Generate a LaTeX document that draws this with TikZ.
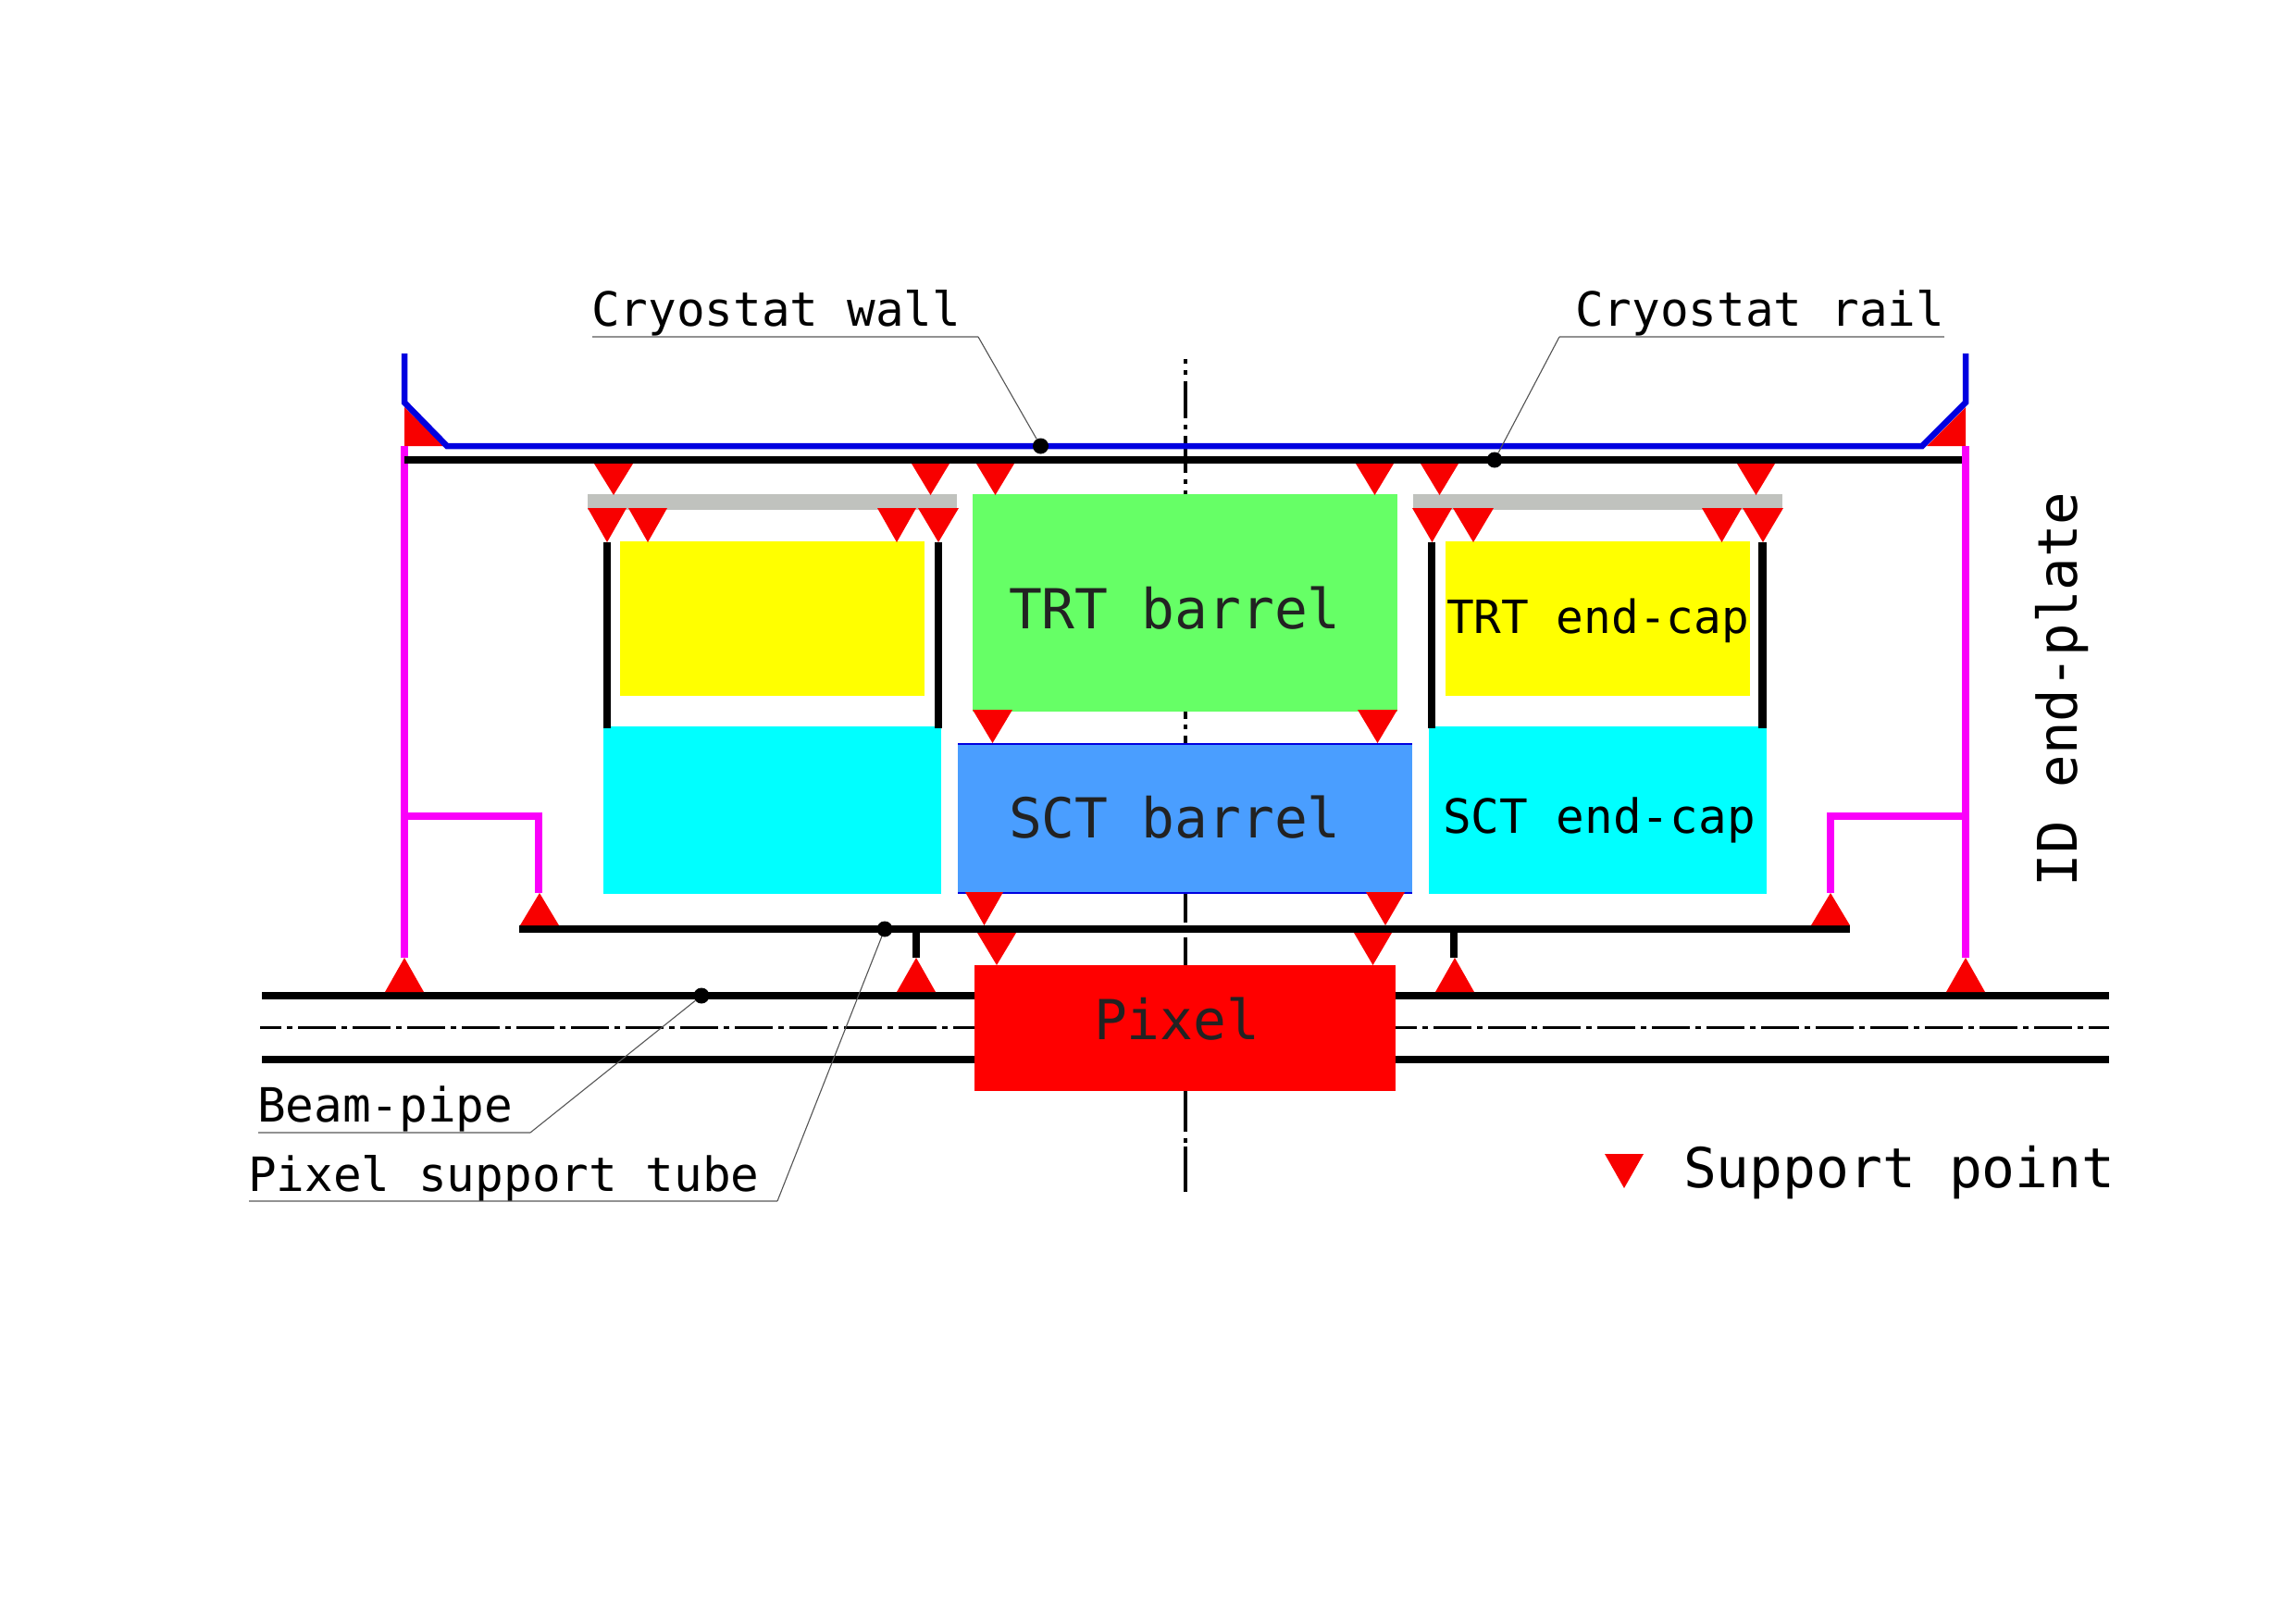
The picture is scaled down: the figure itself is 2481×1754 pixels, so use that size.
\documentclass[tikz,border=0pt]{standalone}
\usepackage{fontspec}
\setmainfont{DejaVu Sans Mono}
\definecolor{sred}{HTML}{F80000}
\definecolor{pixred}{HTML}{FF0000}
\definecolor{wallblue}{HTML}{0000E0}
\definecolor{pmag}{HTML}{FA00FA}
\definecolor{railgrey}{HTML}{C0C2BE}
\definecolor{trtgreen}{HTML}{66FF66}
\definecolor{sctblue}{HTML}{4A9EFF}
\definecolor{ecyellow}{HTML}{FFFF00}
\definecolor{eccyan}{HTML}{00FFFF}
\definecolor{leadgrey}{HTML}{777777}
\definecolor{inktxt}{HTML}{222222}
\newcommand{\fsz}[1]{\fontsize{#1}{#1}\selectfont}
\newcommand{\tdown}[4]{\fill[sred] (#1,#2) -- (#3,#2) -- ({(#1+#3)/2},#4) -- cycle;}
\newcommand{\tup}[4]{\fill[sred] (#1,#2) -- (#3,#2) -- ({(#1+#3)/2},#4) -- cycle;}
\tikzset{
  lbl/.style={anchor=base west,inner sep=0pt,outer sep=0pt,text=black},
  blk/.style={line width=8.4pt,black},
  magline/.style={line width=8pt,pmag},
  bluel/.style={line width=6.5pt,wallblue,line join=miter},
  thin lead/.style={line width=1.1pt,leadgrey!70!black},
  flat lead/.style={line width=2pt,leadgrey!80!white},
  cdash/.style={line width=3pt,black,dash pattern=on 41pt off 6pt on 6pt off 6pt,dash phase=18pt},
  cvert/.style={line width=4pt,black},
  pt/.style={circle,fill=black,inner sep=0pt,minimum size=17pt}
}
\begin{document}
\begin{tikzpicture}[x=1pt,y=-1pt]
\useasboundingbox (0,0) rectangle (2481,1754);
% vertical centre line
\draw[cvert] (1281,388)--(1281,393) (1281,400)--(1281,405) (1281,412)--(1281,452) (1281,459)--(1281,464) (1281,471)--(1281,511) (1281,518)--(1281,523) (1281,530)--(1281,535)
  (1281,768)--(1281,777) (1281,783)--(1281,788) (1281,795)--(1281,803)
  (1281,966)--(1281,997) (1281,1013)--(1281,1043)
  (1281,1179)--(1281,1223) (1281,1230)--(1281,1235) (1281,1239)--(1281,1288);
% horizontal centre line
\draw[cdash] (281,1110) -- (1053,1110);
\draw[cdash] (1508,1110) -- (2279,1110);
% grey rails
\fill[railgrey] (635,534) rectangle (1034,551);
\fill[railgrey] (1527,534) rectangle (1926,551);
% boxes
\fill[ecyellow] (670,585) rectangle (999,752);
\fill[ecyellow] (1562,585) rectangle (1891,752);
\fill[eccyan] (652,785) rectangle (1017,966);
\fill[eccyan] (1544,785) rectangle (1909,966);
\fill[trtgreen] (1051,534) rectangle (1510,769);
\fill[sctblue] (1035,803) rectangle (1526,966);
\draw[line width=2pt,wallblue] (1035,804) -- (1526,804) (1035,965) -- (1526,965);
% pipes
\draw[blk] (283,1076) -- (2279,1076);
\draw[blk] (283,1145) -- (2279,1145);
\fill[pixred] (1053,1043) rectangle (1508,1179);
% end-plate
\fill[sred] (437,440) -- (480,482) -- (437,482) -- cycle;
\fill[sred] (2124,440) -- (2082,482) -- (2124,482) -- cycle;
\draw[bluel] (437,382) -- (437,435) -- (483,482) -- (2077,482) -- (2124,435) -- (2124,382);
\draw[magline] (437,482) -- (437,1035);
\draw[magline] (2124,482) -- (2124,1035);
\draw[magline] (437,882) -- (582,882) -- (582,965);
\draw[magline] (2124,882) -- (1978,882) -- (1978,965);
\draw[blk] (437,497) -- (2120,497);
% side bars
\draw[blk] (656,586) -- (656,787);
\draw[blk] (1014,586) -- (1014,787);
\draw[blk] (1547,586) -- (1547,787);
\draw[blk] (1904.5,586) -- (1904.5,787);
% pixel support tube
\draw[blk] (561,1004) -- (1999,1004);
\draw[blk] (990,1008) -- (990,1035);
\draw[blk] (1571,1008) -- (1571,1035);
% support points: under rail
\tdown{642}{501}{684}{535}
\tdown{985}{501}{1026}{535}
\tdown{1055}{501}{1096}{535}
\tdown{1465}{501}{1506}{535}
\tdown{1535}{501}{1576}{535}
\tdown{1877}{501}{1918}{535}
% under grey rails
\tdown{635}{549}{677}{586}
\tdown{679}{549}{721}{586}
\tdown{948}{549}{990}{586}
\tdown{992}{549}{1036}{586}
\tdown{1526}{549}{1569}{586}
\tdown{1570}{549}{1614}{586}
\tdown{1839}{549}{1882}{586}
\tdown{1883}{549}{1927}{586}
% TRT to SCT
\tdown{1051}{767}{1094}{803}
\tdown{1467}{767}{1510}{803}
% SCT to tube
\tdown{1043}{964}{1084}{1000}
\tdown{1476}{964}{1518}{1000}
% tube to pixel
\tdown{1056}{1008}{1098}{1043}
\tdown{1463}{1008}{1504}{1043}
% up triangles
\tup{562}{1000}{604}{965}
\tup{1957}{1000}{1999}{965}
\tup{416}{1072}{458}{1035}
\tup{969}{1072}{1011}{1035}
\tup{1551}{1072}{1593}{1035}
\tup{2103}{1072}{2145}{1035}
% legend triangle
\tdown{1734}{1247}{1776}{1284}
% dots
\node[pt] (wallpt) at (1124.5,482) {};
\node[pt] (railpt) at (1615,497) {};
\node[pt] (beampt) at (758,1076) {};
\node[pt] (tubept) at (956,1004) {};
% leaders
\coordinate (wallA) at (640,364);
\coordinate (wallB) at (1057,364);
\coordinate (railA) at (2101,364);
\coordinate (railB) at (1685,364);
\coordinate (beamA) at (279,1224);
\coordinate (beamB) at (573,1224);
\coordinate (tubeA) at (269,1298);
\coordinate (tubeB) at (840,1298);
\draw[flat lead] (wallA) -- (wallB);
\draw[thin lead] (wallB) -- (wallpt);
\draw[flat lead] (railA) -- (railB);
\draw[thin lead] (railB) -- (railpt);
\draw[flat lead] (beamA) -- (beamB);
\draw[thin lead] (beamB) -- (beampt);
\draw[flat lead] (tubeA) -- (tubeB);
\draw[thin lead] (tubeB) -- (tubept);
% labels
\node[lbl,font=\fsz{51}] (lwall) at (639,352) {Cryostat wall};
\node[lbl,font=\fsz{51}] (lrail) at (1702,352) {Cryostat rail};
\node[lbl,font=\fsz{51}] (lbeam) at (278,1212) {Beam-pipe};
\node[lbl,font=\fsz{51}] (ltube) at (268,1287) {Pixel support tube};
\node[lbl,font=\fsz{59.6},text=inktxt] (ltrtb) at (1090,679) {TRT barrel};
\node[lbl,font=\fsz{59.6},text=inktxt] (lsctb) at (1090,905) {SCT barrel};
\node[lbl,font=\fsz{59.6},text=inktxt] (lpix) at (1182,1123) {Pixel};
\node[lbl,font=\fsz{49.4}] (ltrte) at (1563,684) {TRT end-cap};
\node[lbl,font=\fsz{51}] (lscte) at (1559,900) {SCT end-cap};
\node[lbl,font=\fsz{59.6}] (lsup) at (1819,1283) {Support point};
\node[lbl,font=\fsz{59},rotate=90] (lid) at (2244,958) {ID end-plate};
\end{tikzpicture}
\end{document}
